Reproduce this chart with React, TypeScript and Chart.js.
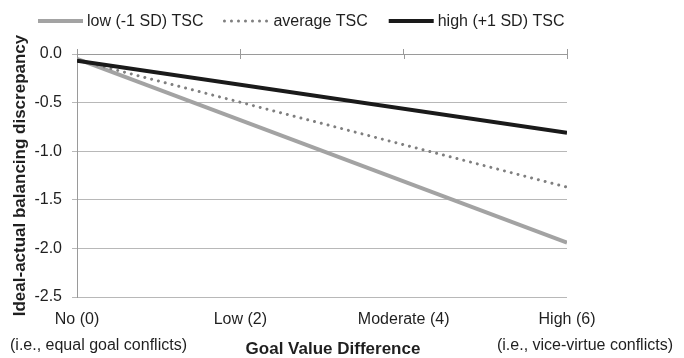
import React, { useEffect, useRef } from 'react';
import { Chart, registerables } from 'chart.js';

Chart.register(...registerables);

// ---- data ----
const xTickValues = [0, 2, 4, 6];
const xTickLabels = ['No (0)', 'Low (2)', 'Moderate (4)', 'High (6)'];
const xPoints = [0, 6];
const seriesLabels = ['low (-1 SD) TSC', 'average TSC', 'high (+1 SD) TSC'];
const lowTSC = [-0.05, -1.94];
const averageTSC = [-0.06, -1.37];
const highTSC = [-0.07, -0.81];
const yMin = -2.5;
const yMax = 0;
const yStep = 0.5;
const xTitle = 'Goal Value Difference';
const yTitle = 'Ideal-actual balancing discrepancy';
const xLeftNote = '(i.e., equal goal conflicts)';
const xRightNote = '(i.e., vice-virtue conflicts)';

const FONT = "'Liberation Sans', Arial, sans-serif";
const TEXT = '#1f1f1f';

const toPoints = (ys: number[]) => ys.map((y, i) => ({ x: xPoints[i], y }));

const extrasPlugin = {
  id: 'extras',
  afterDraw(chart: any) {
    const ctx = chart.ctx;
    ctx.save();
    // legend
    ctx.font = `16px ${FONT}`;
    ctx.textBaseline = 'middle';
    ctx.textAlign = 'left';
    let x = 38;
    const y = 21;
    chart.data.datasets.forEach((ds: any) => {
      ctx.save();
      ctx.strokeStyle = ds.borderColor;
      ctx.lineWidth = ds.borderWidth;
      ctx.lineCap = ds.borderCapStyle || 'butt';
      ctx.setLineDash(ds.borderDash || []);
      ctx.beginPath();
      ctx.moveTo(x, y);
      ctx.lineTo(x + 45, y);
      ctx.stroke();
      ctx.restore();
      ctx.fillStyle = TEXT;
      ctx.fillText(ds.label, x + 49, y + 1);
      x += 49 + ctx.measureText(ds.label).width + 21;
    });
    // x-axis tick marks crossing the zero line (inner half)
    const xs = chart.scales.x;
    const top = chart.chartArea.top;
    ctx.strokeStyle = '#9a9a9a';
    ctx.lineWidth = 1;
    xTickValues.forEach((v) => {
      const px = Math.round(xs.getPixelForValue(v)) + 0.5;
      ctx.beginPath();
      ctx.moveTo(px, top);
      ctx.lineTo(px, top + 5);
      ctx.stroke();
    });
    // bottom notes and axis title
    ctx.textBaseline = 'alphabetic';
    ctx.fillStyle = TEXT;
    ctx.font = `16px ${FONT}`;
    ctx.textAlign = 'left';
    ctx.fillText(xLeftNote, 10, 350);
    ctx.textAlign = 'right';
    ctx.fillText(xRightNote, 673, 350);
    ctx.font = `bold 17px ${FONT}`;
    ctx.textAlign = 'center';
    ctx.fillText(xTitle, 333, 354);
    ctx.restore();
  },
};

export default function App() {
  const ref = useRef<HTMLCanvasElement>(null);
  useEffect(() => {
    if (!ref.current) return;
    Chart.defaults.font.family = FONT;
    const chart = new Chart(ref.current, {
      type: 'line',
      data: {
        datasets: [
          {
            label: seriesLabels[0],
            data: toPoints(lowTSC),
            borderColor: '#a3a3a3',
            borderWidth: 4,
            pointRadius: 0,
            order: 2,
          },
          {
            label: seriesLabels[1],
            data: toPoints(averageTSC),
            borderColor: '#7f7f7f',
            borderWidth: 3,
            borderDash: [0.01, 7],
            borderCapStyle: 'round',
            pointRadius: 0,
            order: 1,
          },
          {
            label: seriesLabels[2],
            data: toPoints(highTSC),
            borderColor: '#1a1a1a',
            borderWidth: 4,
            pointRadius: 0,
            order: 0,
          },
        ],
      },
      options: {
        animation: false,
        responsive: false,
        devicePixelRatio: 1,
        layout: { padding: { top: 49, right: 117, bottom: 0, left: 0 } },
        plugins: {
          legend: { display: false },
          tooltip: { enabled: false },
        },
        scales: {
          x: {
            type: 'linear',
            position: 'bottom',
            min: 0,
            max: 6,
            afterBuildTicks: (s: any) => {
              s.ticks = xTickValues.map((v) => ({ value: v }));
            },
            ticks: {
              font: { size: 16 },
              color: TEXT,
              padding: 13,
              maxRotation: 0,
              callback: (v: any) => xTickLabels[xTickValues.indexOf(Number(v))],
            },
            grid: { display: false, drawTicks: false },
            border: { display: false },
            afterFit: (s: any) => {
              s.height = 61;
            },
          },
          x2: {
            type: 'linear',
            position: 'top',
            min: 0,
            max: 6,
            afterBuildTicks: (s: any) => {
              s.ticks = xTickValues.map((v) => ({ value: v }));
            },
            ticks: { display: false },
            grid: { drawOnChartArea: false, tickLength: 5, color: '#9a9a9a' },
            border: { color: '#9a9a9a' },
            afterFit: (s: any) => {
              s.height = 5;
            },
          },
          y: {
            min: yMin,
            max: yMax,
            ticks: {
              stepSize: yStep,
              font: { size: 16 },
              color: TEXT,
              padding: 10,
              callback: (v: any) => Number(v).toFixed(1),
            },
            grid: { color: '#b8b8b8', tickLength: 5 },
            border: { color: '#9a9a9a' },
            title: {
              display: true,
              text: yTitle,
              color: TEXT,
              font: { size: 17, weight: 'bold' },
              padding: { top: 10, bottom: 0 },
            },
            afterFit: (s: any) => {
              s.width = 77;
            },
          },
        },
      },
      plugins: [extrasPlugin],
    } as any);
    return () => chart.destroy();
  }, []);
  return (
    <div style={{ position: 'fixed', left: 0, top: 0, width: 684, height: 358, background: '#fff' }}>
      <canvas ref={ref} width={684} height={358} />
    </div>
  );
}
